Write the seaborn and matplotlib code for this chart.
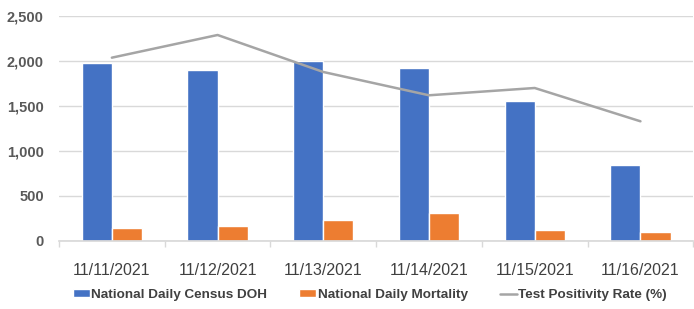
import numpy as np
import pandas as pd
import matplotlib
matplotlib.use('Agg')
import matplotlib.pyplot as plt
from matplotlib.patches import Patch
from matplotlib.lines import Line2D
import seaborn as sns

# values
dates = ['11/11/2021', '11/12/2021', '11/13/2021', '11/14/2021', '11/15/2021', '11/16/2021']
census_doh = [1975, 1895, 2000, 1922, 1550, 845]
mortality = [141, 171, 237, 308, 127, 97]
positivity = [2037, 2289, 1878, 1619, 1700, 1330]

blue = '#4472C4'
orange = '#ED7D31'
gray = '#A5A5A5'
text_col = '#404040'

sns.set_theme(style='white')
plt.rcParams['font.family'] = ['Liberation Sans', 'DejaVu Sans']

df = pd.DataFrame({
    'date': dates * 2,
    'value': census_doh + mortality,
    'series': ['National Daily Census DOH'] * 6 + ['National Daily Mortality'] * 6,
})

fig, ax = plt.subplots(figsize=(6.94, 3.09), dpi=100)
fig.subplots_adjust(left=59 / 694, right=0.999, top=1 - 16 / 309, bottom=1 - 241 / 309)

sns.barplot(data=df, x='date', y='value', hue='series', order=dates,
            palette=[blue, orange], saturation=1, width=0.57, gap=0,
            legend=False, ax=ax)
sns.lineplot(x=np.arange(len(dates)), y=positivity, color=gray, linewidth=1.8, ax=ax)

ax.set_ylim(0, 2500)
ax.set_xlim(-0.5, len(dates) - 0.5)
ax.set_yticks(range(0, 2501, 500))
ax.set_yticklabels([f'{v:,}' for v in range(0, 2501, 500)],
                   fontsize=10.5, fontweight='bold', color='#595959')
ax.set_xlabel('')
ax.set_ylabel('')
ax.grid(axis='y', color='#D9D9D9', linewidth=1)
ax.set_axisbelow(True)
for s in ['top', 'right', 'left']:
    ax.spines[s].set_visible(False)
ax.spines['bottom'].set_color('#D9D9D9')
ax.tick_params(axis='y', length=0, pad=11)
ax.tick_params(axis='x', length=0, pad=15.5, labelsize=11.5, labelcolor=text_col)
ax.set_xticks(np.arange(-0.5, len(dates), 1), minor=True)
ax.tick_params(axis='x', which='minor', length=4, color='#D9D9D9', width=1, bottom=True)

handles = [
    Patch(facecolor=blue, label='National Daily Census DOH'),
    Patch(facecolor=orange, label='National Daily Mortality'),
    Line2D([0], [0], color=gray, linewidth=1.8, label='Test Positivity Rate (%)'),
]
leg = fig.legend(handles=handles, loc='center', bbox_to_anchor=(0.533, 1 - 295 / 309), ncol=3,
                 frameon=False, handlelength=1.26, handleheight=0.5,
                 handletextpad=0.1, columnspacing=2.4,
                 prop={'weight': 'bold', 'size': 9.7})
for t in leg.get_texts():
    t.set_color(text_col)

fig.savefig('out.png', dpi=100)
